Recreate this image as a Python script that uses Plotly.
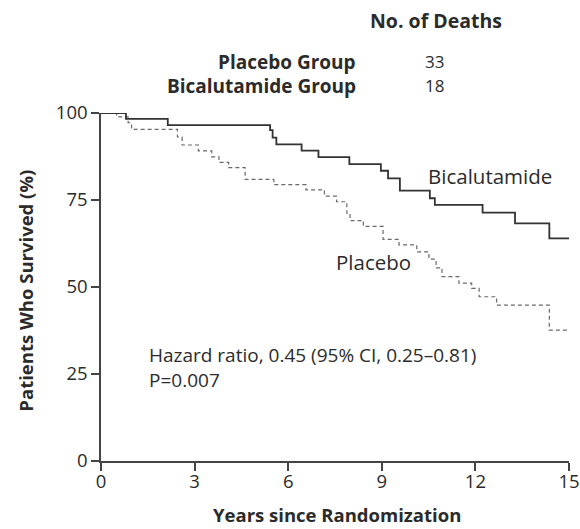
import plotly.graph_objects as go

# Kaplan-Meier step data: event times (years) and survival (%) after each drop
bica_years = [0, 0.80, 2.14, 5.42, 5.50, 5.62, 6.43, 6.97, 7.96, 8.97, 9.20, 9.58,
              10.54, 10.70, 12.23, 13.27, 14.37, 15]
bica_surv = [100, 98.3, 96.5, 95.1, 92.9, 91.0, 89.2, 87.3, 85.3, 83.4, 81.2, 77.7,
             75.5, 73.6, 71.4, 68.3, 64.0, 64.0]

plac_years = [0, 0.50, 0.87, 0.98, 2.45, 2.60, 3.12, 3.55, 3.78, 4.09, 4.62, 5.54,
              6.57, 7.16, 7.55, 7.88, 7.98, 8.41, 9.04, 9.55, 10.12, 10.51, 10.74,
              10.93, 11.47, 11.88, 12.12, 12.68, 14.37, 15]
plac_surv = [100, 98.9, 97.2, 95.3, 93.1, 90.8, 89.1, 87.4, 85.8, 84.3, 80.9, 79.4,
             77.9, 76.1, 74.5, 71.2, 69.1, 67.4, 63.7, 62.1, 60.1, 58.0, 55.5,
             53.0, 51.1, 49.6, 47.2, 44.8, 37.6, 37.6]

x_ticks = [0, 3, 6, 9, 12, 15]
y_ticks = [0, 25, 50, 75, 100]

groups = ["Placebo Group", "Bicalutamide Group"]
deaths = [33, 18]

FONT = "Open Sans"
INK = "#2b2b2b"

fig = go.Figure()
fig.add_trace(go.Scatter(
    x=plac_years, y=plac_surv, mode="lines", line_shape="hv",
    line=dict(color="#6a6a6a", width=1.2, dash="4px,3px"), hoverinfo="skip"))
fig.add_trace(go.Scatter(
    x=bica_years, y=bica_surv, mode="lines", line_shape="hv",
    line=dict(color="#333333", width=1.8), hoverinfo="skip"))

axis_common = dict(
    showline=True, linecolor="#444444", linewidth=1.5,
    ticks="outside", ticklen=8, tickwidth=1.5, tickcolor="#444444",
    showgrid=False, zeroline=False, automargin=False,
    tickfont=dict(family=FONT, size=18.5, color=INK),
)
fig.update_xaxes(range=[0, 15], tickvals=x_ticks, ticklabelstandoff=-5, **axis_common)
fig.update_yaxes(range=[0, 100], tickvals=y_ticks, ticklabelstandoff=0, **axis_common)

ann = []
# header: death counts by group
ann.append(dict(text="<b>No. of Deaths</b>", x=0.716, y=1.267, xref="paper", yref="paper",
                showarrow=False, xanchor="center", yanchor="middle",
                font=dict(family=FONT, size=19.5, color=INK)))
for g, d, yy in zip(groups, deaths, [1.147, 1.078]):
    ann.append(dict(text=f"<b>{g}</b>", x=0.550, y=yy, xref="paper", yref="paper",
                    showarrow=False, xanchor="right", yanchor="middle",
                    font=dict(family=FONT, size=19, color=INK)))
    ann.append(dict(text=str(d), x=0.712, y=yy, xref="paper", yref="paper",
                    showarrow=False, xanchor="center", yanchor="middle",
                    font=dict(family=FONT, size=17, color=INK)))

# curve labels
ann.append(dict(text="Bicalutamide", x=10.42, y=81.9, xref="x", yref="y",
                showarrow=False, xanchor="left", yanchor="middle",
                font=dict(family=FONT, size=20.5, color=INK)))
ann.append(dict(text="Placebo", x=7.47, y=57.2, xref="x", yref="y",
                showarrow=False, xanchor="left", yanchor="middle",
                font=dict(family=FONT, size=20.5, color=INK)))
ann.append(dict(text="Hazard ratio, 0.45 (95% CI, 0.25\u20130.81)", x=1.47, y=30.5,
                xref="x", yref="y", showarrow=False, xanchor="left", yanchor="middle",
                font=dict(family=FONT, size=19, color=INK)))
ann.append(dict(text="P=0.007", x=1.47, y=23.3, xref="x", yref="y",
                showarrow=False, xanchor="left", yanchor="middle",
                font=dict(family=FONT, size=19, color=INK)))

# axis titles
ann.append(dict(text="<b>Years since Randomization</b>", x=0.504, y=-0.153,
                xref="paper", yref="paper", showarrow=False,
                xanchor="center", yanchor="middle",
                font=dict(family=FONT, size=18.5, color=INK)))
ann.append(dict(text="<b>Patients Who Survived (%)</b>", x=-0.162, y=0.49,
                xref="paper", yref="paper", showarrow=False, textangle=-90,
                xanchor="center", yanchor="middle",
                font=dict(family=FONT, size=18.5, color=INK)))

fig.update_layout(
    width=580, height=529, autosize=False,
    margin=dict(l=101, r=11, t=113, b=68),
    paper_bgcolor="white", plot_bgcolor="white",
    showlegend=False, annotations=ann,
)

fig.write_html("out.html")
